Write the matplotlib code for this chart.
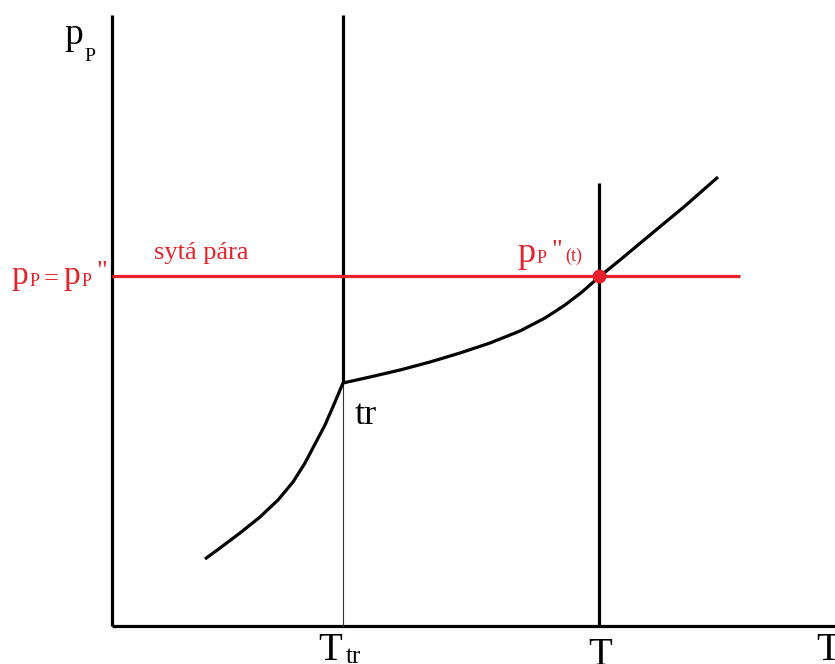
import numpy as np
import matplotlib.pyplot as plt

# Schematicky diagram p-T: krivka syte pary, trojny bod, izoterma T
W, H = 835, 664

# souradnice v pixelech obrazku (y roste dolu)
os_x0, os_y0 = 112, 626       # pocatek os
os_top, os_right = 15, 835

T_tr = 343
T_akt = 599
p_syt = 276                   # hladina p_P = p_P''

# krivka pod trojnym bodem (sublimace)
kr1_x = [205, 220, 240, 260, 278, 293, 305, 315, 325, 335, 343]
kr1_y = [559, 548, 533, 517, 500, 482, 463, 444, 425, 402, 383]
# krivka nad trojnym bodem (var)
kr2_x = [343, 370, 400, 430, 460, 490, 520, 545, 565, 582, 599, 620, 650, 685, 718]
kr2_y = [383, 377, 370, 362, 353, 343, 331, 318, 305, 292, 277, 260, 235, 206, 177]

cerna = 'black'
cervena = '#e62129'
serif = 'Liberation Serif'

fig = plt.figure(figsize=(W / 100, H / 100), dpi=100)
ax = fig.add_axes([0, 0, 1, 1])
ax.set_xlim(0, W)
ax.set_ylim(H, 0)
ax.axis('off')

lw = 2.3
# osy
ax.plot([os_x0, os_x0], [os_top, os_y0], color=cerna, lw=lw, solid_capstyle='butt')
ax.plot([os_x0, os_right], [os_y0, os_y0], color=cerna, lw=lw, solid_capstyle='butt')

# svisla cara v T_tr: silna nad trojnym bodem, tenka pod nim
ax.plot([T_tr, T_tr], [os_top, kr1_y[-1]], color=cerna, lw=lw, solid_capstyle='butt')
ax.plot([T_tr, T_tr], [kr1_y[-1], os_y0], color='#333333', lw=0.8)

# izoterma T
ax.plot([T_akt, T_akt], [183, os_y0], color=cerna, lw=lw, solid_capstyle='butt')

# hladina syte pary
ax.plot([os_x0, 740], [p_syt, p_syt], color=cervena, lw=lw, solid_capstyle='butt')

# krivka
ax.plot(kr1_x, kr1_y, color=cerna, lw=lw, solid_joinstyle='round', solid_capstyle='butt')
ax.plot(kr2_x, kr2_y, color=cerna, lw=lw, solid_joinstyle='round', solid_capstyle='butt')

# prusecik
ax.plot([T_akt], [p_syt], 'o', color=cervena, ms=9)

# popisky
ax.text(64, 44, 'p', family=serif, fontsize=27, color=cerna, ha='left', va='baseline')
ax.text(84, 61, 'P', family=serif, fontsize=14, color=cerna, ha='left', va='baseline')

ax.text(11, 284, 'p', family=serif, fontsize=24, color=cervena, va='baseline')
ax.text(30, 286, 'P', family=serif, fontsize=13, color=cervena, va='baseline')
ax.text(44, 285, '=', family=serif, fontsize=19, color=cervena, va='baseline')
ax.text(63, 284, 'p', family=serif, fontsize=24, color=cervena, va='baseline')
ax.text(82, 286, 'P', family=serif, fontsize=13, color=cervena, va='baseline')
ax.text(96, 278, '"', family=serif, fontsize=19, color=cervena, va='baseline')

ax.text(154, 259, 'sytá pára', family=serif, fontsize=19, color=cervena, va='baseline')

ax.text(517, 262, 'p', family=serif, fontsize=26, color=cervena, va='baseline')
ax.text(537, 263, 'P', family=serif, fontsize=13, color=cervena, va='baseline')
ax.text(551, 257, '"', family=serif, fontsize=19, color=cervena, va='baseline')
ax.text(565, 261, '(t)', family=serif, fontsize=13, color=cervena, va='baseline')

ax.text(355, 424, 'tr', family=serif, fontsize=26, color=cerna, va='baseline')

ax.text(318, 660, 'T', family=serif, fontsize=28, color=cerna, va='baseline')
ax.text(346, 663, 'tr', family=serif, fontsize=18, color=cerna, va='baseline')
ax.text(588, 665, 'T', family=serif, fontsize=28, color=cerna, va='baseline')
ax.text(816, 660, 'T', family=serif, fontsize=28, color=cerna, va='baseline')

fig.savefig('out.png', dpi=100)
